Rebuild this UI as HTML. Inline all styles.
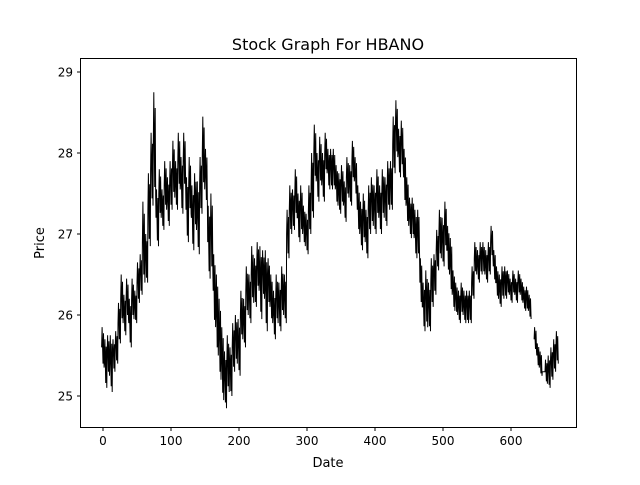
<!DOCTYPE html>
<html><head><meta charset="utf-8"><style>
body{margin:0;background:#fff;}
text{font-family:"DejaVu Sans","Liberation Sans",sans-serif;fill:#000;}
</style></head><body>
<svg id="chart" width="640" height="480">
<rect width="640" height="480" fill="#fff"/>
<text x="328" y="50" font-size="16" text-anchor="middle">Stock Graph For HBANO</text>
<g id="plot"></g>
<rect x="80.5" y="58.5" width="496" height="369" fill="none" stroke="#000" stroke-width="1"/>
<g id="xt"></g><g id="yt"></g>
<text x="328" y="467" font-size="13" text-anchor="middle">Date</text>
<text x="44" y="243" font-size="13" text-anchor="middle" transform="rotate(-90 44 243)">Price</text>
</svg>
<script>
const xStart=0, xStep=4;
const prices=[25.6,25.4,25.5,25.4,25.5,25.6,25.9,26.2,26.0,26.2,25.9,26.2,26.1,26.4,26.5,26.9,26.7,27.3,27.8,28.1,27.2,27.5,27.3,27.6,27.4,27.6,27.8,27.6,27.9,27.6,27.9,27.3,27.6,27.2,27.4,27.2,27.6,28.0,27.7,26.9,27.0,26.3,26.0,25.7,25.4,25.2,25.4,25.3,25.6,25.7,25.6,26.0,25.9,26.3,26.2,26.5,26.4,26.6,26.4,26.5,26.3,26.4,26.2,26.0,26.2,26.1,26.3,26.2,27.0,27.3,27.3,27.5,27.2,27.3,27.1,27.0,27.3,27.6,28.0,27.7,27.9,27.7,28.0,27.8,27.8,27.8,27.6,27.5,27.6,27.4,27.7,27.6,27.9,27.7,27.3,27.1,27.2,27.0,27.3,27.4,27.3,27.5,27.3,27.5,27.4,27.6,27.6,28.1,28.3,28.0,28.1,27.7,27.4,27.2,27.2,27.0,27.0,26.4,26.1,26.2,26.1,26.4,26.5,26.8,27.0,26.9,27.1,26.8,26.6,26.3,26.2,26.1,26.2,26.1,26.1,26.1,26.4,26.7,26.6,26.7,26.7,26.6,26.7,26.9,26.6,26.4,26.3,26.4,26.4,26.4,26.3,26.4,26.3,26.4,26.3,26.2,26.2,26.1,null,25.7,25.5,25.4,25.3,25.3,25.3,25.4,25.5,25.6];
const spreads=[0.25,0.3,0.25,0.35,0.2,0.2,0.25,0.3,0.25,0.25,0.3,0.25,0.2,0.25,0.25,0.5,0.3,0.45,0.45,0.65,0.35,0.3,0.25,0.3,0.3,0.3,0.35,0.3,0.35,0.35,0.35,0.4,0.35,0.4,0.35,0.45,0.35,0.45,0.35,0.45,0.5,0.45,0.5,0.5,0.45,0.35,0.35,0.3,0.3,0.3,0.35,0.3,0.3,0.3,0.3,0.35,0.3,0.3,0.45,0.3,0.5,0.3,0.3,0.3,0.3,0.3,0.3,0.3,0.3,0.3,0.25,0.3,0.3,0.3,0.25,0.25,0.3,0.4,0.35,0.3,0.3,0.3,0.25,0.25,0.25,0.25,0.25,0.25,0.25,0.25,0.25,0.25,0.25,0.25,0.3,0.3,0.3,0.3,0.3,0.3,0.3,0.3,0.3,0.3,0.3,0.3,0.3,0.35,0.35,0.3,0.3,0.35,0.3,0.25,0.25,0.3,0.3,0.3,0.3,0.35,0.3,0.3,0.25,0.25,0.3,0.3,0.3,0.3,0.35,0.25,0.2,0.2,0.2,0.2,0.2,0.2,0.2,0.2,0.2,0.2,0.2,0.2,0.2,0.2,0.2,0.2,0.2,0.2,0.2,0.15,0.15,0.15,0.15,0.15,0.15,0.15,0.15,0.15,0.15,0.15,0.15,0.15,0,0.15,0.2,0.2,0.2,0.2,0.15,0.15,0.15,0.15];
const xTicks=[0,100,200,300,400,500,600];
const yTicks=[25,26,27,28,29];
const X=v=>103+v*0.68, Y=v=>396-(v-25)*81;
const NS="http://www.w3.org/2000/svg";
let d="",pen=false;
prices.forEach((p,i)=>{
 if(p===null){pen=false;return;}
 const x=X(xStart+i*xStep), s=spreads[i]||0;
 const x1=x-1.36, x2=x, x3=x+1.36;
 d+=(pen?"L":"M")+x1.toFixed(1)+" "+Y(p).toFixed(1);
 d+="L"+(x1+0.5).toFixed(1)+" "+Y(p+s).toFixed(1);
 d+="L"+(x2).toFixed(1)+" "+Y(p-s*0.8).toFixed(1);
 d+="L"+(x2+0.5).toFixed(1)+" "+Y(p+s*0.7).toFixed(1);
 d+="L"+(x3-0.3).toFixed(1)+" "+Y(p-s).toFixed(1);
 pen=true;
});
const path=document.createElementNS(NS,"path");
path.setAttribute("d",d);path.setAttribute("fill","none");path.setAttribute("stroke","#000");path.setAttribute("stroke-width","1");


document.getElementById("plot").appendChild(path);
xTicks.forEach(t=>{
 const g=document.createElementNS(NS,"g");
 
 
 const x=X(t);
 g.innerHTML=`<line x1="${x}" x2="${x}" y1="427.5" y2="431" stroke="#000"/><text x="${x}" y="445" font-size="12" text-anchor="middle">${t}</text>`;
 document.getElementById("xt").appendChild(g);
});
yTicks.forEach(t=>{
 const g=document.createElementNS(NS,"g");
 
 
 const y=Y(t);
 g.innerHTML=`<line x1="77" x2="80.5" y1="${y}" y2="${y}" stroke="#000"/><text x="73" y="${y+4.5}" font-size="12" text-anchor="end">${t}</text>`;
 document.getElementById("yt").appendChild(g);
});
</script>
</body></html>
